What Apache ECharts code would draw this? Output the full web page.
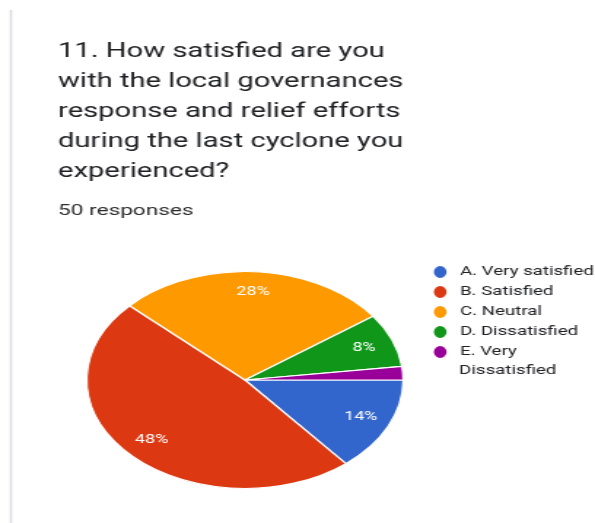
<!DOCTYPE html>
<html>
<head>
<meta charset="utf-8">
<script src="https://cdn.jsdelivr.net/npm/echarts@6/dist/echarts.min.js"></script>
<style>
  html, body { margin: 0; padding: 0; background: #ffffff; width: 595px; height: 523px; overflow: hidden; }
  /* the card is drawn on a narrower canvas and widened to the page */
  #chart { position: absolute; left: 0; top: 0; width: 408px; height: 523px;
           transform: scaleX(1.4583); transform-origin: 0 0; }
</style>
</head>
<body>
<div id="chart"></div>
<script>
// Survey question and answer counts
const questionLines = [
  '11. How satisfied are you',
  'with the local governances',
  'response and relief efforts',
  'during the last cyclone you',
  'experienced?'
];
const responseNote = '50 responses';
const categories = ['A. Very satisfied', 'B. Satisfied', 'C. Neutral', 'D. Dissatisfied', 'E. Very Dissatisfied'];
const responses = [7, 24, 14, 4, 1];
const sliceColors = ['#3366cc', '#dc3912', '#ff9900', '#109618', '#990099'];

const pieData = categories.map((name, i) => ({ name: name, value: responses[i] }));

// the last legend entry wraps onto a second line
const wrapName = 'E. Very Dissatisfied';
const wrapFirst = 'E. Very';
const wrapSecond = 'Dissatisfied';

const legendLeft = 295.5;
const legendTop = 263;
const legendRow = 20;
const iconW = 11.5;
const textPad = 2.8;
const legendTextX = legendLeft + iconW + 5 + textPad;

const chart = echarts.init(document.getElementById('chart'), null, { renderer: 'canvas' });

chart.setOption({
  animation: false,
  backgroundColor: '#ffffff',
  color: sliceColors,
  title: [
    {
      text: questionLines.join('\n'),
      left: 39.8,
      top: 37,
      padding: 0,
      textStyle: { fontFamily: 'Roboto', fontSize: 20, fontWeight: 'normal', color: '#202124', lineHeight: 30 }
    },
    {
      text: responseNote,
      left: 39.8,
      top: 201,
      padding: 0,
      textStyle: { fontFamily: 'Roboto', fontSize: 15.5, fontWeight: 'normal', color: '#2d2d2d', lineHeight: 20 }
    }
  ],
  legend: {
    orient: 'vertical',
    left: legendLeft,
    top: legendTop,
    padding: 0,
    itemGap: legendRow - 18,
    itemWidth: iconW,
    itemHeight: 14,
    icon: 'path://M0,5.5A4.2,5.5,0,1,1,8.4,5.5A4.2,5.5,0,1,1,0,5.5Z',
    selectedMode: false,
    formatter: function (name) {
      return name === wrapName ? wrapFirst : name;
    },
    textStyle: { fontFamily: 'Roboto', fontSize: 12.8, color: '#202124', lineHeight: 18, padding: [0, 0, 0, textPad] },
    data: categories
  },
  graphic: [
    {
      type: 'line',
      shape: { x1: 7.5, y1: 10, x2: 7.5, y2: 523 },
      style: { stroke: '#dadce0', lineWidth: 1.5 },
      silent: true
    },
    {
      type: 'text',
      left: legendTextX,
      top: legendTop + 9 + legendRow * 4 + 20 - 7.5,
      silent: true,
      style: { text: wrapSecond, font: '12.8px Roboto', fill: '#202124' }
    }
  ],
  series: [
    {
      type: 'pie',
      center: [168, 380],
      radius: [0, 108.5],
      startAngle: 0,
      clockwise: true,
      avoidLabelOverlap: false,
      label: { show: false },
      labelLine: { show: false },
      emphasis: { disabled: true },
      itemStyle: { borderColor: '#ffffff', borderWidth: 1.2 },
      data: pieData
    },
    {
      // ring that only carries the percentage labels further out on each slice
      type: 'pie',
      center: [168, 380],
      radius: [61, 108.5],
      startAngle: 0,
      clockwise: true,
      silent: true,
      avoidLabelOverlap: false,
      itemStyle: { color: 'rgba(0,0,0,0)', borderWidth: 0 },
      labelLine: { show: false },
      emphasis: { disabled: true },
      label: {
        show: true,
        position: 'inside',
        fontFamily: 'Roboto',
        fontSize: 12.3,
        color: '#ffffff',
        formatter: function (p) { return p.percent < 5 ? '' : Math.round(p.percent) + '%'; }
      },
      data: pieData
    }
  ]
});
</script>
</body>
</html>
